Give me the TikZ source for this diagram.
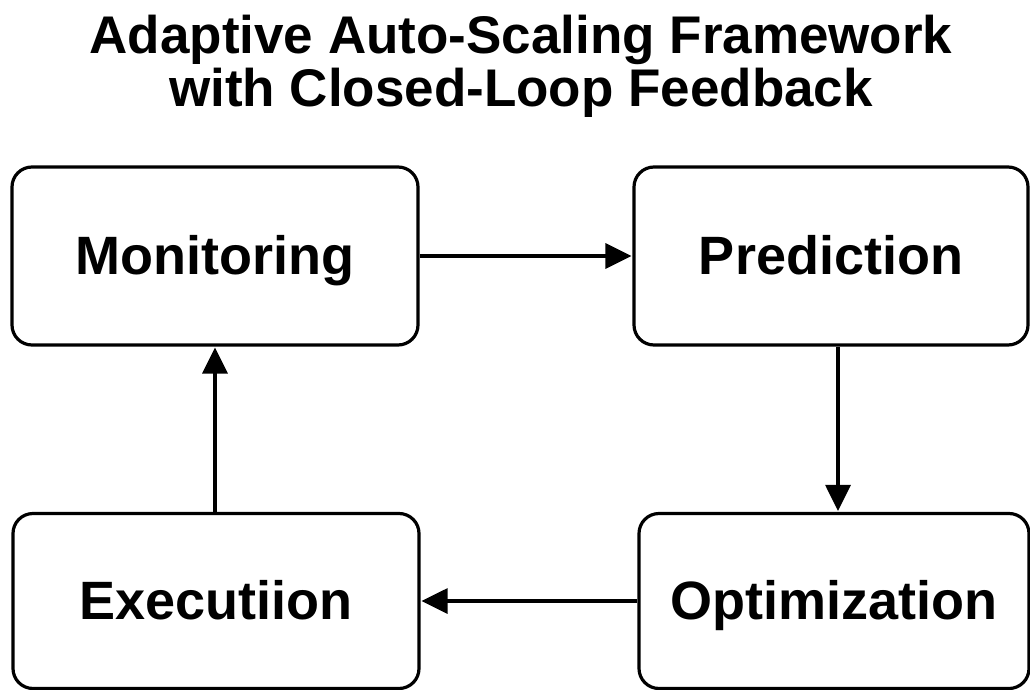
\documentclass[tikz,border=0pt]{standalone}
\usepackage{fontspec}
\setmainfont{Liberation Sans}
\usetikzlibrary{arrows.meta}
\begin{document}
\begin{tikzpicture}[x=1pt,y=-1pt,
  stagebox/.style={draw=black, line width=3.2pt, rounded corners=20pt, fill=white,
    inner sep=0pt, text height=37pt, text depth=0pt,
    font=\fontsize{54}{60}\selectfont\bfseries},
  titletext/.style={inner sep=0pt, anchor=base, font=\fontsize{53}{53}\selectfont\bfseries},
  flow/.style={line width=3.2pt, -{Triangle[length=26pt,width=25pt]}, shorten >=1pt}
]
\useasboundingbox[fill=white] (0,0) rectangle (1030,690);
\node[titletext] (t1) at (521,54) {Adaptive Auto-Scaling Framework};
\node[titletext] (t2) at (521,107) {with Closed-Loop Feedback};

\node[stagebox, minimum width=406pt, minimum height=178pt] (mon) at (215,256) {Monitoring};
\node[stagebox, minimum width=394pt, minimum height=178pt] (pred) at (831,256) {Prediction};
\node[stagebox, minimum width=406pt, minimum height=175pt] (exec) at (216,601) {Executiion};
\node[stagebox, minimum width=390pt, minimum height=175pt] (opt) at (834,601) {Optimization};

\coordinate (c1) at (838,0);
\coordinate (c2) at (215,0);
\draw[flow] (mon.east) -- (pred.west);
\draw[flow] (pred.south -| c1) -- (opt.north -| c1);
\draw[flow] (opt.west) -- (exec.east);
\draw[flow] (exec.north -| c2) -- (mon.south -| c2);
\end{tikzpicture}
\end{document}
